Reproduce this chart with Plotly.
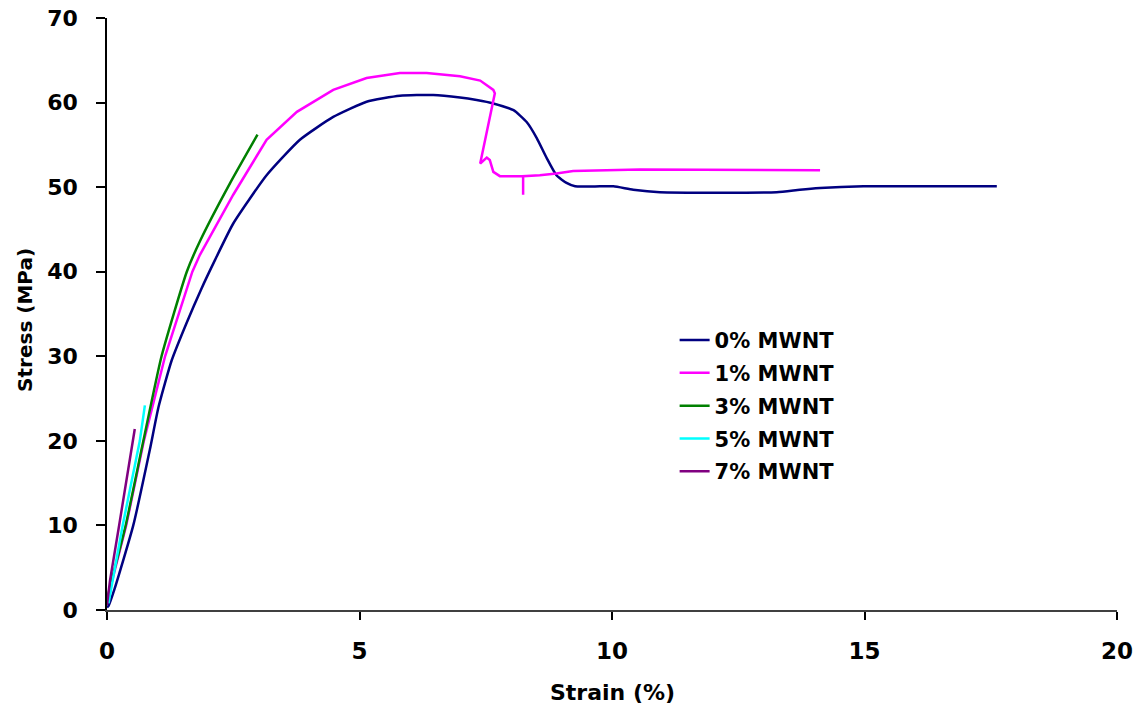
import plotly.graph_objects as go

# Tensile stress-strain curves for PC/MWNT composites
strain_0 = [0.0, 0.03, 0.15, 0.52, 0.85, 1.02, 1.28, 1.58, 1.87, 2.14, 2.5, 3.16, 3.82, 4.48,
            5.14, 5.8, 6.46, 6.99, 7.32, 7.65, 8.05, 8.31, 8.51, 8.71, 8.9, 9.1, 9.27, 9.76,
            10.03, 10.42, 10.95, 13.26, 13.72, 14.12, 14.98, 16.96, 17.62]
stress_0 = [0.3, 0.5, 2.5, 10.0, 19.0, 24.0, 29.5, 34.0, 38.0, 41.4, 45.7, 51.4, 55.6, 58.3,
            60.1, 60.8, 60.9, 60.6, 60.3, 59.9, 59.1, 57.7, 55.8, 53.4, 51.4, 50.5, 50.1, 50.1,
            50.1, 49.7, 49.4, 49.4, 49.7, 49.9, 50.1, 50.1, 50.1]

strain_1 = [0.0, 0.06, 0.38, 0.73, 1.15, 1.69, 1.84, 2.0, 2.5, 3.16, 3.76, 4.48, 5.14, 5.8,
            6.33, 6.99, 7.39, 7.65, 7.68, 7.39, 7.52, 7.58, 7.65, 7.78, 8.24, 8.24, 8.24,
            8.57, 8.9, 9.23, 10.55, 14.12]
stress_1 = [1.0, 2.5, 10.0, 20.0, 30.0, 40.0, 42.0, 43.7, 49.1, 55.6, 58.9, 61.5, 62.9, 63.5,
            63.5, 63.1, 62.6, 61.5, 61.1, 52.8, 53.5, 53.2, 51.8, 51.3, 51.3, 49.1, 51.3,
            51.4, 51.6, 51.9, 52.1, 52.0]

strain_3 = [0.0, 0.05, 0.37, 0.72, 1.08, 1.58, 1.84, 2.44, 2.98]
stress_3 = [1.0, 2.5, 10.0, 20.0, 30.0, 40.0, 43.6, 50.5, 56.2]

strain_5 = [0.03, 0.31, 0.65, 0.75]
stress_5 = [0.8, 10.0, 20.0, 24.2]

strain_7 = [0.0, 0.06, 0.24, 0.5, 0.55]
stress_7 = [0.6, 3.5, 10.0, 19.8, 21.4]

series = [
    ("0% MWNT", strain_0, stress_0, "#000080", "spline"),
    ("1% MWNT", strain_1, stress_1, "#FF00FF", "linear"),
    ("3% MWNT", strain_3, stress_3, "#008000", "spline"),
    ("5% MWNT", strain_5, stress_5, "#00FFFF", "linear"),
    ("7% MWNT", strain_7, stress_7, "#800080", "linear"),
]

FONT = "DejaVu Sans, sans-serif"

fig = go.Figure()
for name, xs, ys, color, shape in series:
    line = dict(color=color, width=2.5, shape=shape)
    if shape == "spline":
        line["smoothing"] = 0.5
    fig.add_trace(go.Scatter(
        x=xs, y=ys, mode="lines", name=name, legendgroup=name, line=line,
    ))

fig.update_layout(
    width=1141, height=717,
    margin=dict(l=107, r=24, t=18, b=107),
    paper_bgcolor="white", plot_bgcolor="white",
    font=dict(family=FONT, color="black", size=20, weight="bold"),
    legend=dict(
        x=0.562, y=0.49, xanchor="left", yanchor="top",
        bgcolor="rgba(0,0,0,0)", borderwidth=0,
        font=dict(family=FONT, size=21, color="black", weight="bold"),
        traceorder="grouped", tracegroupgap=2.5,
    ),
    xaxis=dict(
        range=[0, 20], dtick=5, showgrid=False, zeroline=False, automargin=False,
        showline=True, linecolor="#404040", linewidth=1.5,
        ticks="outside", ticklen=8, tickcolor="black", tickwidth=1.5,
        ticklabelstandoff=12,
        tickfont=dict(family=FONT, size=23, color="black", weight="bold"),
    ),
    yaxis=dict(
        range=[0, 70], dtick=10, showgrid=False, zeroline=False, automargin=False,
        showline=True, linecolor="black", linewidth=1.5,
        ticks="outside", ticklen=9, tickcolor="black", tickwidth=1.5,
        ticklabelstandoff=14,
        tickfont=dict(family=FONT, size=22, color="black", weight="bold"),
    ),
    annotations=[
        dict(text="Strain (%)", xref="paper", yref="paper", x=0.5, y=-0.140,
             xanchor="center", yanchor="middle", showarrow=False,
             font=dict(family=FONT, size=22, color="black", weight="bold")),
        dict(text="Stress (MPa)", xref="paper", yref="paper", x=-0.0812, y=0.49,
             xanchor="center", yanchor="middle", textangle=-90, showarrow=False,
             font=dict(family=FONT, size=20, color="black", weight="bold")),
    ],
)

fig.write_html("out.html")
